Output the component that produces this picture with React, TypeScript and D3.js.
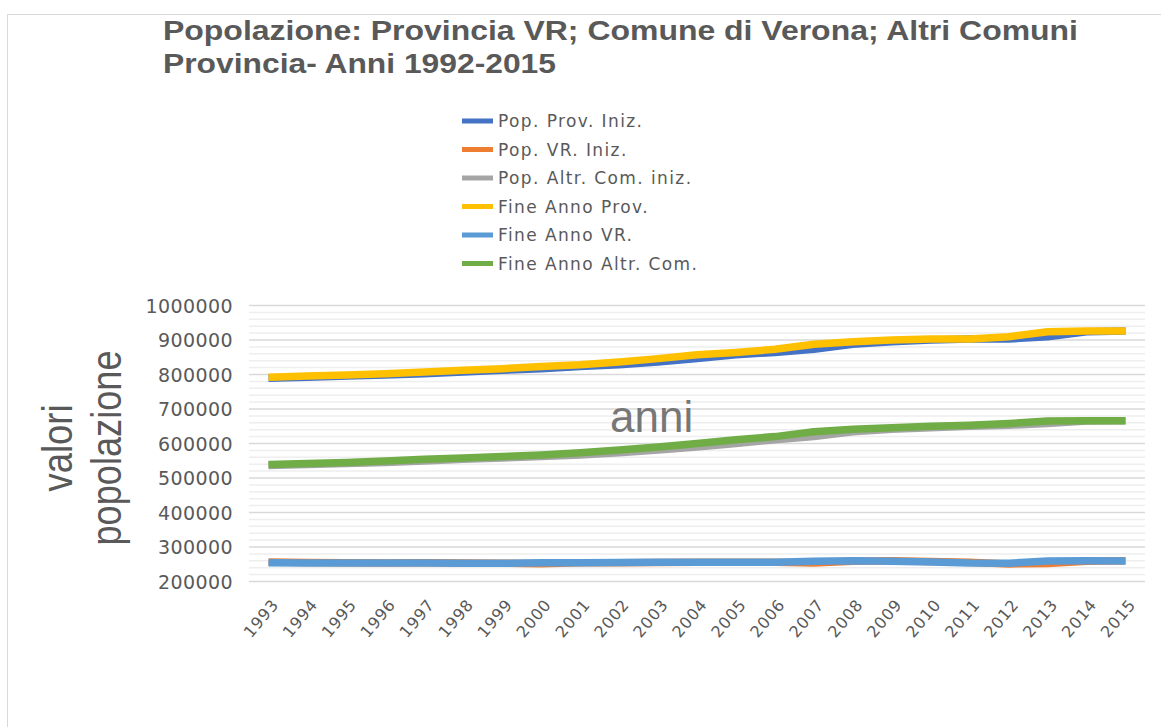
import React from "react";
import { scaleLinear, scalePoint, line, range } from "d3";

const years = [
  "1993", "1994", "1995", "1996", "1997", "1998", "1999", "2000", "2001", "2002", "2003", "2004",
  "2005", "2006", "2007", "2008", "2009", "2010", "2011", "2012", "2013", "2014", "2015",
];

// Pop. Prov. Iniz.
const popProvIniz = [
  789000, 792000, 796000, 798500, 802000, 807000, 812000, 817000, 823000, 828000, 836000, 846000,
  857000, 864000, 873000, 887500, 895000, 900000, 903000, 903000, 909500, 924000, 926000,
];
// Pop. VR. Iniz.
const popVRIniz = [
  256500, 255000, 254000, 253500, 254500, 253500, 253000, 251500, 254000, 254500, 255000, 255500,
  255500, 255500, 253500, 258500, 260000, 258000, 256000, 251000, 252000, 259000, 260000,
];
// Pop. Altr. Com. iniz.
const popAltrIniz = [
  536000, 539000, 542000, 545000, 549000, 554000, 558000, 562000, 567000, 573000, 581000, 590000,
  600000, 611000, 620000, 634000, 641000, 646000, 650000, 653000, 658000, 665000, 666000,
];
// Fine Anno Prov.
const fineProv = [
  792000, 796000, 798500, 802000, 807000, 812000, 817000, 823000, 828000, 836000, 846000, 857000,
  864000, 873000, 887500, 895000, 900000, 903000, 903000, 909500, 924000, 926000, 926000,
];
// Fine Anno VR.
const fineVR = [
  254000, 253500, 253500, 253500, 253500, 253000, 253000, 254000, 254500, 255000, 255500, 255500,
  255500, 256000, 258500, 260000, 258500, 256500, 253500, 253000, 259500, 260000, 259500,
];
// Fine Anno Altr. Com.
const fineAltr = [
  539000, 542000, 545000, 549000, 554000, 558000, 562000, 567000, 573000, 581000, 590000, 600000,
  611000, 620000, 634000, 641000, 646000, 650000, 653000, 658000, 665000, 666000, 666000,
];

const seriesNames = [
  "Pop. Prov. Iniz.",
  "Pop. VR. Iniz.",
  "Pop. Altr. Com. iniz.",
  "Fine Anno Prov.",
  "Fine Anno VR.",
  "Fine Anno Altr. Com.",
];
const seriesValues = [popProvIniz, popVRIniz, popAltrIniz, fineProv, fineVR, fineAltr];
const colors = ["#4472C4", "#ED7D31", "#A5A5A5", "#FFC000", "#5B9BD5", "#70AD47"];

const yTicks = [200000, 300000, 400000, 500000, 600000, 700000, 800000, 900000, 1000000];

export default function App() {
  const width = 1161;
  const height = 727;
  const left = 249;
  const right = 1145;
  const top = 305.5;
  const bottom = 581.5;

  const x = scalePoint<string>().domain(years).range([left, right]).padding(0.5);
  const y = scaleLinear().domain([200000, 1000000]).range([bottom, top]);

  const minor = range(200000, 1000001, 20000);
  const lineGen = line<number>()
    .x((d, i) => x(years[i]) as number)
    .y((d) => y(d));

  const grey = "#595959";
  const tickFont = "'DejaVu Sans', Verdana, sans-serif";

  return (
    <svg
      width={width}
      height={height}
      style={{ position: "absolute", left: 0, top: 0, background: "#fff" }}
    >
      <rect x={7.5} y={14.5} width={1300} height={900} fill="#fff" stroke="#d9d9d9" />

      {/* title */}
      <g fill={grey} fontFamily="'Liberation Sans', Arial, sans-serif" fontWeight="bold" fontSize={27}>
        <text x={163} y={40} textLength={915} lengthAdjust="spacingAndGlyphs">
          Popolazione: Provincia VR; Comune di Verona; Altri Comuni
        </text>
        <text x={163} y={73} textLength={393} lengthAdjust="spacingAndGlyphs">
          Provincia- Anni 1992-2015
        </text>
      </g>

      {/* legend */}
      <g fontFamily={tickFont} fontSize={17} fill={grey} letterSpacing={1.4}>
        {seriesNames.map((name, i) => {
          const cy = 121 + i * 28.5;
          return (
            <g key={name}>
              <rect x={462} y={cy - 2.5} width={31} height={5} fill={colors[i]} />
              <text x={498} y={cy + 6}>
                {name}
              </text>
            </g>
          );
        })}
      </g>

      {/* gridlines */}
      <g>
        {minor.map((v) => (
          <line
            key={"m" + v}
            x1={left}
            x2={right}
            y1={y(v)}
            y2={y(v)}
            stroke={v % 100000 === 0 ? "#d9d9d9" : "#eeeeee"}
            strokeWidth={1.5}
          />
        ))}
      </g>

      {/* y tick labels */}
      <g fontFamily={tickFont} fontSize={19} fill={grey} textAnchor="end">
        {yTicks.map((v) => (
          <text key={v} x={233} y={y(v)} dy="0.37em" letterSpacing={0.4}>
            {v}
          </text>
        ))}
      </g>

      {/* y axis title */}
      <g
        fill={grey}
        fontFamily="'Liberation Sans', Arial, sans-serif"
        fontSize={43}
        textAnchor="middle"
      >
        <text transform="translate(72,448) rotate(-90)" textLength={87} lengthAdjust="spacingAndGlyphs">
          valori
        </text>
        <text transform="translate(121,448) rotate(-90)" textLength={195} lengthAdjust="spacingAndGlyphs">
          popolazione
        </text>
      </g>

      {/* x tick labels */}
      <g fontFamily={tickFont} fontSize={16} fill={grey} textAnchor="end" letterSpacing={0.8}>
        {years.map((yr) => (
          <text key={yr} transform={`translate(${(x(yr) as number) + 11},${605}) rotate(-50)`}>
            {yr}
          </text>
        ))}
      </g>

      {/* series */}
      <g fill="none" strokeWidth={7.5} strokeLinejoin="round" strokeLinecap="butt">
        {seriesValues.map((vals, i) => (
          <path key={seriesNames[i]} d={lineGen(vals) || ""} stroke={colors[i]} />
        ))}
      </g>

      {/* floating "anni" label */}
      <text
        x={610}
        y={432}
        fontFamily="'Liberation Sans', Arial, sans-serif"
        fontSize={44}
        fill="#777777"
      >
        anni
      </text>
    </svg>
  );
}
